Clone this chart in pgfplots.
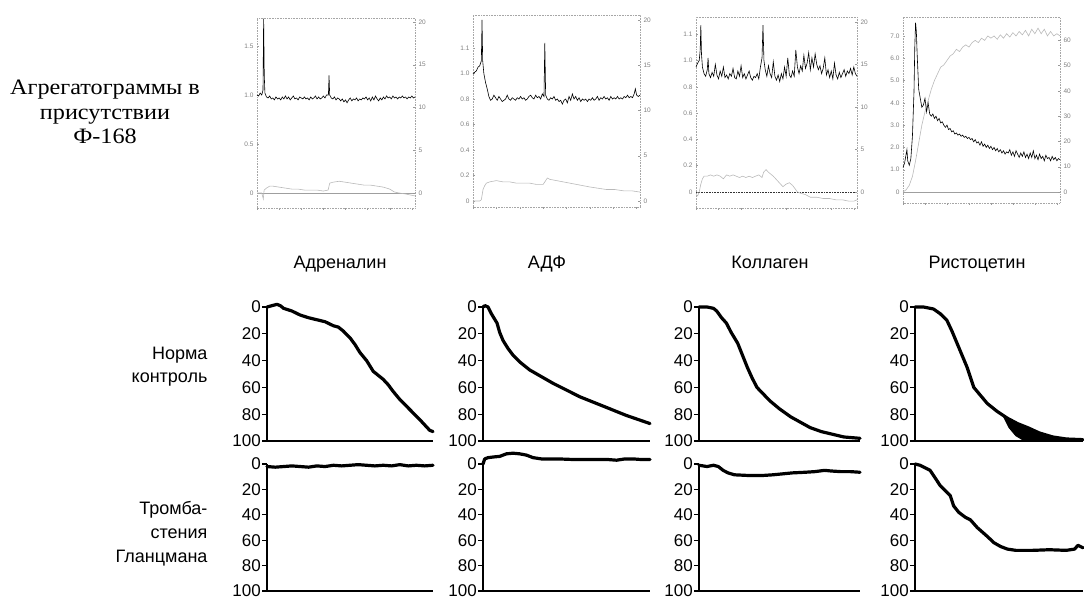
\documentclass[border=0pt]{standalone}
\usepackage{pgfplots}
\pgfplotsset{compat=1.18}
\usepackage{fontspec}
\setmainfont{Liberation Sans}
\newfontfamily\seriffont[FakeStretch=1.1]{Liberation Serif}

\pgfplotsset{
  topax/.style={scale only axis, xmin=0, xmax=100, clip=false,
    axis line style={gray!70, densely dotted, line width=0.6pt},
    ticklabel style={font=\fontsize{6.5}{7}\selectfont, text=gray},
    tick style={gray!80, line width=0.4pt, solid}, major tick length=2pt,
    xtick={0,14,...,100}, xticklabels={}, xtick pos=bottom, x tick style={yshift=-2pt},
    ytick pos=left, tick align=inside},
  toprt/.style={scale only axis, xmin=0, xmax=100,
    axis x line=none, axis y line*=right, axis line style={draw=none},
    ticklabel style={font=\fontsize{6.5}{7}\selectfont, text=gray},
    tick style={gray!80, line width=0.4pt}, major tick length=2pt, tick align=inside},
  blk/.style={black, line width=0.6pt},
  gry/.style={gray!55, line width=0.6pt},
  zer/.style={gray!75, line width=0.6pt},
  botax/.style={scale only axis, xmin=0, xmax=100, ymin=0, ymax=100, y dir=reverse,
    axis x line=bottom, axis y line=left, axis line style={-, line width=2.4pt, black},
    xtick=\empty, ytick={0,20,...,100}, tick align=outside, major tick length=5pt,
    tick style={line width=1.2pt, black}, clip=false,
    yticklabel style={font=\fontsize{17}{17}\selectfont, inner sep=1pt},
    /pgf/number format/assume math mode=true},
  crv/.style={black, line width=3.2pt, line join=round, line cap=round},
}

\begin{document}
\begin{tikzpicture}[x=1pt,y=1pt]
\useasboundingbox (0,0) rectangle (1084,600);

% ---------- labels ----------
\node[align=center, font=\seriffont\fontsize{22}{24.5}\selectfont] at (105,488) {Агрегатограммы в\\присутствии\\Ф-168};
\node[anchor=base, font=\fontsize{18}{18}\selectfont] at (340,331) {Адреналин};
\node[anchor=base, font=\fontsize{18}{18}\selectfont] at (547,331) {АДФ};
\node[anchor=base, font=\fontsize{18}{18}\selectfont] at (770,331) {Коллаген};
\node[anchor=base, font=\fontsize{18}{18}\selectfont] at (977,331) {Ристоцетин};
\node[align=right, anchor=east, font=\fontsize{18}{23}\selectfont] at (211,233) {Норма\\контроль};
\node[align=right, anchor=east, font=\fontsize{18}{24}\selectfont] at (211,66) {Тромба-\\стения\\Гланцмана};

% ---------- top panel 1: Adrenaline ----------
\begin{axis}[topax, at={(257pt,392pt)}, anchor=south west, width=158pt, height=190pt,
  ymin=-0.153, ymax=1.786, ytick={0,0.5,1,1.5}, yticklabels={0,0.5,1.0,1.5}]
\addplot[zer] coordinates {(0,0)(100,0)};
\addplot[gry] coordinates {(0,0)(3,0)(4,-0.06)(4.5,0.03)(6,0.05)(8,0.07)(10,0.07)(14,0.06)(18,0.05)(22,0.04)(26,0.04)(30,0.03)(34,0.03)(38,0.03)(42,0.02)(45,0.03)(46,0.1)(48,0.11)(52,0.12)(56,0.11)(60,0.1)(64,0.09)(68,0.08)(72,0.08)(76,0.07)(80,0.06)(84,0.04)(87,0.01)(90,0.0)(94,-0.01)(97,-0.02)(100,-0.03)};
\addplot[blk] coordinates {(0,1.0)(1,0.99)(2,1.02)(3,1.0)(3.8,1.05)(4.2,1.78)(4.6,1.2)(5,1.02)(6,0.98)(7,0.97)(8,0.99)(9,0.96)(10,0.97)(11,0.95)(12,0.98)(13,0.96)(14,0.97)(15,0.95)(16,0.98)(17,0.96)(18,0.99)(19,0.96)(20,0.98)(21,0.95)(22,0.97)(23,0.99)(24,0.96)(25,0.97)(26,0.95)(27,0.98)(28,0.97)(29,0.96)(30,0.98)(31,0.96)(32,0.97)(33,0.95)(34,0.98)(35,0.96)(36,0.97)(37,0.99)(38,0.96)(39,0.98)(40,0.96)(41,0.97)(42,0.99)(43,0.97)(44,1.0)(45.2,1.0)(45.6,1.2)(46,1.0)(47,0.97)(48,0.96)(49,0.98)(50,0.95)(51,0.97)(52,0.96)(53,0.94)(54,0.96)(55,0.93)(56,0.95)(57,0.92)(58,0.95)(59,0.97)(60,0.94)(61,0.96)(62,0.95)(63,0.97)(64,0.94)(65,0.96)(66,0.95)(67,0.97)(68,0.96)(69,0.98)(70,0.95)(71,0.97)(72,0.94)(73,0.98)(74,0.95)(75,0.99)(76,0.96)(77,0.94)(78,0.97)(79,0.95)(80,0.98)(81,0.96)(82,0.99)(83,0.97)(84,0.98)(85,0.96)(86,0.99)(87,0.97)(88,0.98)(89,0.96)(90,0.98)(91,0.97)(92,0.99)(93,0.97)(94,0.98)(95,0.96)(96,0.98)(97,0.97)(98,0.99)(99,0.97)(100,0.98)};
\end{axis}
\begin{axis}[toprt, at={(257pt,392pt)}, anchor=south west, width=158pt, height=190pt,
  ymin=-1.75, ymax=20.47, ytick={0,5,10,15,20}, yticklabels={0,5,10,15,20}]
\addplot[draw=none] coordinates {(0,0)};
\end{axis}

% ---------- top panel 2: ADP ----------
\begin{axis}[topax, at={(473pt,393pt)}, anchor=south west, width=167pt, height=192pt,
  ymin=-0.047, ymax=1.459, ytick={0,0.2,0.4,0.6,0.8,1.0,1.2}, yticklabels={0,0.2,0.4,0.6,0.8,1.0,1.1}]
\addplot[gry] coordinates {(0,0)(4,0)(5,0.01)(6,0.09)(7,0.12)(8,0.14)(10,0.15)(14,0.16)(18,0.15)(22,0.15)(26,0.14)(30,0.14)(34,0.14)(38,0.13)(42,0.13)(43,0.15)(44.5,0.18)(46,0.17)(50,0.16)(54,0.15)(58,0.14)(62,0.13)(66,0.12)(70,0.11)(75,0.1)(80,0.09)(85,0.09)(90,0.08)(95,0.08)(100,0.07)};
\addplot[blk] coordinates {(0,1.0)(2,1.02)(3,1.05)(4,1.06)(5,1.1)(5.4,1.42)(5.8,1.1)(6.5,1.0)(7.5,0.93)(8.5,0.88)(9.5,0.82)(10.5,0.79)(11.5,0.8)(12.5,0.83)(13.5,0.81)(14.5,0.79)(15.5,0.82)(16.5,0.8)(17.5,0.78)(18.5,0.79)(19.5,0.8)(20.5,0.83)(21.5,0.8)(22.5,0.79)(23.5,0.81)(24.5,0.8)(25.5,0.79)(26.5,0.81)(27.5,0.8)(28.5,0.82)(29.5,0.8)(30.5,0.81)(31.5,0.79)(32.5,0.8)(33.5,0.82)(34.5,0.83)(35.5,0.81)(36.5,0.8)(37.5,0.83)(38.5,0.81)(39.5,0.82)(40.5,0.8)(41.5,0.84)(42.5,0.82)(43,1.24)(43.5,0.83)(44.5,0.8)(45.5,0.79)(46.5,0.81)(47.5,0.8)(48.5,0.82)(49.5,0.79)(50.5,0.8)(51.5,0.78)(52.5,0.79)(53.5,0.76)(54.5,0.79)(55.5,0.8)(56.5,0.77)(57.5,0.82)(58.5,0.79)(59.5,0.84)(60.5,0.8)(61.5,0.82)(62.5,0.79)(63.5,0.81)(64.5,0.78)(65.5,0.8)(66.5,0.79)(67.5,0.8)(68.5,0.78)(69.5,0.8)(70.5,0.79)(71.5,0.81)(72.5,0.79)(73.5,0.8)(74.5,0.82)(75.5,0.79)(76.5,0.81)(77.5,0.8)(78.5,0.82)(79.5,0.8)(80.5,0.81)(81.5,0.79)(82.5,0.82)(83.5,0.8)(84.5,0.81)(85.5,0.8)(86.5,0.82)(87.5,0.8)(88.5,0.81)(89.5,0.8)(90.5,0.82)(91.5,0.81)(92.5,0.83)(93.5,0.81)(94.5,0.82)(95.5,0.81)(96.5,0.84)(97.2,0.88)(98,0.83)(99,0.82)(100,0.83)};
\end{axis}
\begin{axis}[toprt, at={(473pt,393pt)}, anchor=south west, width=167pt, height=192pt,
  ymin=-0.663, ymax=20.55, ytick={0,5,10,15,20}, yticklabels={0,5,10,15,20}]
\addplot[draw=none] coordinates {(0,0)};
\end{axis}

% ---------- top panel 3: Collagen ----------
\begin{axis}[topax, at={(696pt,392pt)}, anchor=south west, width=161pt, height=191pt,
  ymin=-0.122, ymax=1.331, ytick={0,0.2,0.4,0.6,0.8,1.0,1.2}, yticklabels={0,0.2,0.4,0.6,0.8,1.0,1.1}]
\addplot[zer, densely dotted, black!80] coordinates {(0,0)(100,0)};
\addplot[gry] coordinates {(0,-0.02)(1,-0.03)(2,0.0)(3,0.06)(4,0.1)(5,0.12)(7,0.12)(9,0.13)(11,0.12)(13,0.13)(15,0.12)(17,0.1)(19,0.13)(21,0.12)(23,0.13)(25,0.12)(27,0.11)(29,0.12)(31,0.11)(33,0.12)(35,0.11)(37,0.12)(39,0.13)(41,0.11)(42,0.15)(43.5,0.17)(45,0.15)(48,0.12)(51,0.08)(54,0.04)(56,0.06)(58,0.07)(60,0.05)(63,0.0)(65,-0.01)(68,-0.02)(71,-0.04)(75,-0.04)(79,-0.05)(83,-0.05)(87,-0.06)(91,-0.06)(95,-0.07)(98,-0.07)(100,-0.06)};
\addplot[blk] coordinates {(0,0.95)(1,0.98)(2,1.0)(2.6,1.08)(3,1.27)(3.4,1.05)(4,0.95)(5,0.9)(6,0.88)(7,0.93)(7.5,1.02)(8,0.9)(9,0.87)(10,0.91)(11,0.88)(12,0.97)(13,0.89)(14,0.86)(15,0.92)(16,0.88)(17,0.95)(18,0.87)(19,0.89)(20,0.86)(21,0.9)(22,0.88)(23,0.94)(24,0.87)(25,0.86)(26,0.92)(27,0.88)(28,0.96)(29,0.87)(30,0.9)(31,0.86)(32,0.89)(33,0.92)(34,0.87)(35,0.85)(36,0.88)(37,0.87)(38,0.9)(39,0.86)(40,0.95)(41,1.02)(41.6,1.27)(42.2,1.0)(43,0.93)(44,0.88)(45,0.96)(46,0.9)(47,0.87)(48,0.99)(49,0.88)(50,0.85)(51,0.89)(52,0.84)(53,0.9)(54,0.86)(55,0.95)(56,0.88)(57,1.02)(58,0.89)(59,0.87)(60,0.92)(61,0.88)(62,1.08)(63,0.95)(64,0.9)(65,0.96)(66,0.92)(67,1.04)(68,0.94)(69,0.98)(70,1.06)(71,0.93)(72,1.02)(73,0.95)(74,1.05)(75,0.97)(76,0.93)(77,0.96)(78,0.9)(79,0.94)(80,1.02)(81,0.89)(82,0.93)(83,0.87)(84,0.92)(85,0.86)(86,0.98)(87,0.89)(88,0.86)(89,0.91)(90,0.87)(91,0.9)(92,0.93)(93,0.88)(94,0.92)(95,0.9)(96,0.94)(97,0.89)(98,0.95)(99,0.9)(100,0.88)};
\end{axis}
\begin{axis}[toprt, at={(696pt,392pt)}, anchor=south west, width=161pt, height=191pt,
  ymin=-1.88, ymax=20.6, ytick={0,5,10,15,20}, yticklabels={0,5,10,15,20}]
\addplot[draw=none] coordinates {(0,0)};
\end{axis}

% ---------- top panel 4: Ristocetin ----------
\begin{axis}[topax, at={(903pt,397pt)}, anchor=south west, width=157pt, height=186pt,
  ymin=-0.493, ymax=7.85, ytick={0,1,...,7}, yticklabels={0,1.0,2.0,3.0,4.0,5.0,6.0,7.0}]
\addplot[zer] coordinates {(0,0)(100,0)};
\addplot[gry] coordinates {(0,0)(2,0.1)(4,0.3)(6,0.7)(8,1.4)(10,2.2)(12,3.0)(14,3.6)(16,4.1)(18,4.6)(20,5.0)(22,5.3)(24,5.6)(26,5.7)(28,5.9)(30,6.1)(32,6.2)(34,6.4)(36,6.3)(38,6.5)(40,6.6)(42,6.5)(44,6.7)(46,6.8)(48,6.7)(50,6.9)(52,6.8)(54,7.0)(56,6.9)(58,7.0)(60,6.85)(62,7.05)(64,6.9)(66,7.1)(68,6.95)(70,7.15)(72,7.0)(74,7.2)(76,7.05)(78,7.25)(80,7.0)(82,7.3)(84,7.1)(86,7.35)(88,7.1)(90,7.3)(92,7.0)(94,7.2)(96,7.0)(98,7.1)(100,7.0)};
\addplot[blk] coordinates {(0,1.1)(1,1.3)(2,1.7)(2.5,1.9)(3,1.4)(4,1.2)(5,1.5)(6,2.5)(7,4.5)(7.5,6.5)(8,7.6)(8.5,7.2)(9,6.2)(10,4.6)(11,4.2)(12,3.8)(13,3.9)(14,4.2)(15,3.6)(16,4.0)(17,3.5)(18,3.4)(19,3.5)(20,3.3)(21,3.4)(22,3.2)(23,3.3)(24,3.1)(25,3.15)(26,3.0)(27,2.9)(28,3.0)(29,2.8)(30,2.85)(31,2.7)(32,2.75)(33,2.6)(34,2.65)(35,2.55)(36,2.6)(37,2.5)(38,2.55)(39,2.45)(40,2.5)(41,2.4)(42,2.45)(43,2.35)(44,2.4)(45,2.25)(46,2.35)(47,2.2)(48,2.25)(49,2.1)(50,2.25)(51,2.05)(52,2.15)(53,2.0)(54,2.1)(55,1.95)(56,2.05)(57,1.9)(58,2.0)(59,1.85)(60,1.95)(61,1.8)(62,1.9)(63,1.75)(64,1.85)(65,1.7)(66,1.8)(67,1.75)(68,1.9)(69,1.65)(70,1.8)(71,1.6)(72,1.85)(73,1.7)(74,1.55)(75,1.75)(76,1.6)(77,1.8)(78,1.55)(79,1.7)(80,1.5)(81,1.75)(82,1.55)(83,1.85)(84,1.5)(85,1.65)(86,1.45)(87,1.7)(88,1.5)(89,1.6)(90,1.4)(91,1.65)(92,1.5)(93,1.55)(94,1.4)(95,1.6)(96,1.45)(97,1.55)(98,1.4)(99,1.5)(100,1.45)};
\end{axis}
\begin{axis}[toprt, at={(903pt,397pt)}, anchor=south west, width=157pt, height=186pt,
  ymin=-4.35, ymax=69.2, ytick={0,10,...,60}, yticklabels={0,10,20,30,40,50,60}]
\addplot[draw=none] coordinates {(0,0)};
\end{axis}

% ---------- bottom row 1: norm ----------
\begin{axis}[botax, at={(267pt,159pt)}, anchor=south west, width=166pt, height=134pt]
\addplot[crv] coordinates {(0,0)(3,-1)(6,-2)(8,-1)(10,1)(15,3)(20,6)(25,8)(30,9.5)(35,11)(40,14)(43,15)(46,18)(50,23)(53,28)(56,34)(60,40)(64,48)(67,51)(70,54)(73,58)(76,63)(80,69)(84,74)(88,79)(92,84)(95,88)(98,92)(100,93)};
\end{axis}
\begin{axis}[botax, at={(483pt,159pt)}, anchor=south west, width=167pt, height=134pt]
\addplot[crv] coordinates {(0,0)(1.2,-1)(3,0)(5,5)(8.4,12)(10,19)(12,25)(15,31)(18,36)(22,41)(28,47)(35,52)(42,57)(50,62)(58,67)(66,71)(74,75)(80,78)(86,81)(93,84)(100,87)};
\end{axis}
\begin{axis}[botax, at={(699pt,159pt)}, anchor=south west, width=161pt, height=134pt]
\addplot[crv] coordinates {(0,0)(5,0)(9,1)(11,3)(14,8)(17,12)(20,19)(24,27)(27,36)(30,45)(33,53)(36,60)(40,65)(44,70)(50,76)(57,82)(63,86)(69,90)(76,93)(83,95)(90,97)(100,98)};
\end{axis}
\begin{axis}[botax, at={(915pt,159pt)}, anchor=south west, width=168pt, height=134pt]
\addplot[black, fill=black, line width=1pt] coordinates {(52,80)(58,85)(62,88)(68,91)(74,94)(80,96)(86,98)(92,99)(96,99.6)(92,100)(80,100)(70,100)(64,99)(60,96)(56,90)(52,80)};
\addplot[crv] coordinates {(0,0)(5,0)(11,1.5)(15,5)(19,10)(22,18)(25,27)(28,36)(31,45)(35,60)(39,66)(43,72)(49,78)(55,83)(61,87)(67,90)(74,94)(82,97)(90,98.5)(100,99)};
\end{axis}

% ---------- bottom row 2: Glanzmann ----------
\begin{axis}[botax, at={(267pt,9pt)}, anchor=south west, width=166pt, height=127pt]
\addplot[crv] coordinates {(0,2)(5,2.5)(10,2)(15,1.5)(20,2)(25,2.5)(30,1.5)(35,2)(40,1)(45,1.5)(50,1)(55,0.5)(60,1)(65,1.5)(70,1)(75,1.5)(80,0.5)(85,1.5)(90,1)(95,1.5)(100,1)};
\end{axis}
\begin{axis}[botax, at={(483pt,9pt)}, anchor=south west, width=167pt, height=127pt]
\addplot[crv] coordinates {(0,0)(1,-4)(3,-5)(6,-5.5)(10,-6)(14,-8)(18,-8.5)(22,-8)(26,-7)(30,-5)(35,-4)(45,-4)(55,-3.5)(65,-3.5)(75,-3.5)(80,-3)(85,-4)(90,-4)(95,-3.5)(100,-3.5)};
\end{axis}
\begin{axis}[botax, at={(699pt,9pt)}, anchor=south west, width=161pt, height=127pt]
\addplot[crv] coordinates {(0,1)(5,2)(9,1)(12,2)(15,5)(18,7)(22,8.5)(30,9)(40,9)(46,8.5)(50,8)(58,7)(66,6.5)(72,6)(78,5)(82,5.5)(88,6)(94,6)(100,6.5)};
\end{axis}
\begin{axis}[botax, at={(915pt,9pt)}, anchor=south west, width=168pt, height=127pt]
\addplot[crv] coordinates {(0,0)(3,1)(6,3)(9,5)(12,11)(15,17)(18,21)(21,25)(23,33)(26,38)(30,42)(33,44)(37,50)(43,57)(47,62)(51,65)(55,67)(60,68)(70,68)(80,67.5)(90,68)(95,67)(97,64)(100,66)};
\end{axis}
\end{tikzpicture}
\end{document}
